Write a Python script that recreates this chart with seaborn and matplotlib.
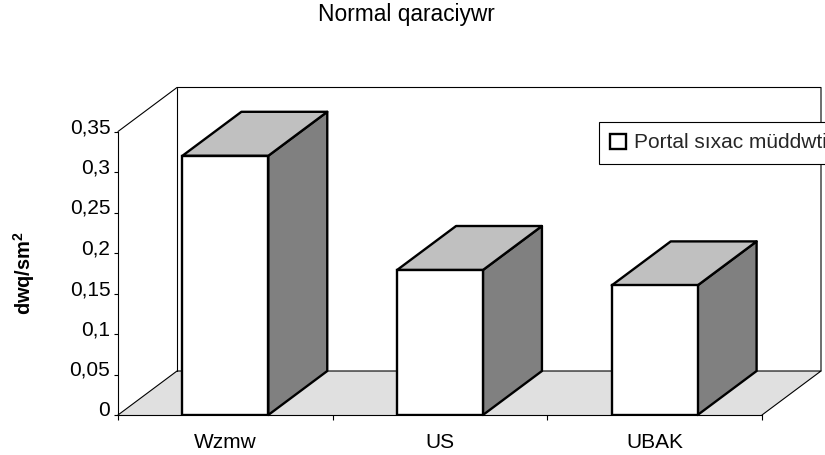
#!/usr/bin/env python3
"""Pseudo-3D column chart: portal vein duration by method."""
import matplotlib
matplotlib.use('Agg')
import matplotlib.pyplot as plt
import matplotlib.transforms as mtrans
import seaborn as sns

categories = ['Wzmw', 'US', 'UBAK']
values = [0.32, 0.179, 0.16]
y_ticks = [0, 0.05, 0.1, 0.15, 0.2, 0.25, 0.3, 0.35]
y_labels = ['0', '0,05', '0,1', '0,15', '0,2', '0,25', '0,3', '0,35']
series_name = 'Portal sıxac müddwti'
title = 'Normal qaraciywr'
y_title = 'dwq/sm$\\mathregular{^2}$'

W, H = 825, 455
FS = 15

sns.set_theme(style='white')
plt.rcParams['font.family'] = ['Liberation Sans', 'DejaVu Sans']
plt.rcParams['mathtext.fontset'] = 'custom'
plt.rcParams['mathtext.bf'] = 'Liberation Sans:bold'

fig = plt.figure(figsize=(W / 100, H / 100), dpi=100)
# axes is the front plane of the fake 3D box
ax = fig.add_axes([118 / W, 1 - 415 / H, 644 / W, 283.5 / H])

sns.barplot(x=categories, y=values, color='white', saturation=1, width=0.4,
            edgecolor='black', linewidth=1.7, label=series_name, ax=ax, zorder=5)
ax.set_xlim(-0.5, 2.5)
ax.set_ylim(0, 0.35)

# depth of the box in data units
dx = 59 / (644 / 3)
dy = 44 / 283.5 * 0.35
x0, x1 = ax.get_xlim()
y1 = ax.get_ylim()[1]

# floor and walls
ax.fill([x0, x1, x1 + dx, x0 + dx], [0, 0, dy, dy], color='#e0e0e0', lw=0, zorder=1, clip_on=False)
wall = dict(color='black', lw=0.8, clip_on=False, zorder=2)
ax.plot([x0, x0 + dx, x1 + dx, x1 + dx], [y1, y1 + dy, y1 + dy, dy], **wall)
ax.plot([x0 + dx, x0 + dx], [y1 + dy, dy], **wall)
ax.plot([x0, x0 + dx, x1 + dx, x1], [0, dy, dy, 0], **wall)

# sides and tops of the columns
for bar in ax.patches[:len(values)]:
    l, r, top = bar.get_x(), bar.get_x() + bar.get_width(), bar.get_height()
    edge = dict(edgecolor='black', lw=1.7, joinstyle='round', clip_on=False, zorder=4)
    ax.fill([r, r + dx, r + dx, r], [0, dy, top + dy, top], facecolor='#808080', **edge)
    ax.fill([l, l + dx, r + dx, r], [top, top + dy, top + dy, top], facecolor='#c0c0c0', **edge)

for side in ['top', 'right']:
    ax.spines[side].set_visible(False)
for side in ['left', 'bottom']:
    ax.spines[side].set_linewidth(0.8)
    ax.spines[side].set_color('black')
    ax.spines[side].set_zorder(3)

ax.set_yticks(y_ticks, y_labels, fontsize=FS, color='black')
ax.set_xticks([0, 1, 2], categories, fontsize=FS, color='black')
ax.set_xticks([-0.5, 0.5, 1.5, 2.5], minor=True)
ax.tick_params(axis='x', which='major', length=0, pad=13)
ax.tick_params(axis='x', which='minor', length=3.5, width=0.8, bottom=True, color='black')
ax.tick_params(axis='y', length=3, width=0.8, pad=2.5, left=True, color='black')
shift = mtrans.ScaledTranslation(0, 6 / 100, fig.dpi_scale_trans)
for lab in ax.get_yticklabels():
    lab.set_transform(lab.get_transform() + shift)

ax.set_xlabel('')
ax.set_ylabel('')
fig.text(24 / W, 1 - 273 / H, y_title, rotation=90, ha='center', va='center',
         fontsize=14.4, fontweight='bold', color='black')
fig.text(406 / W, 1 - 14 / H, title, ha='center', va='center', fontsize=16.4, color='black')

handles, labels = ax.get_legend_handles_labels()
leg = ax.legend(handles, labels, loc='upper left', bbox_to_anchor=(599 / W, 1 - 122 / H),
                bbox_transform=fig.transFigure, fancybox=False, framealpha=1, edgecolor='black',
                fontsize=FS, handlelength=0.75, handleheight=0.75, handletextpad=0.4,
                borderpad=0.55, borderaxespad=0)
leg.get_frame().set_linewidth(0.8)
leg.set_zorder(10)

fig.savefig('out.png', dpi=100)
